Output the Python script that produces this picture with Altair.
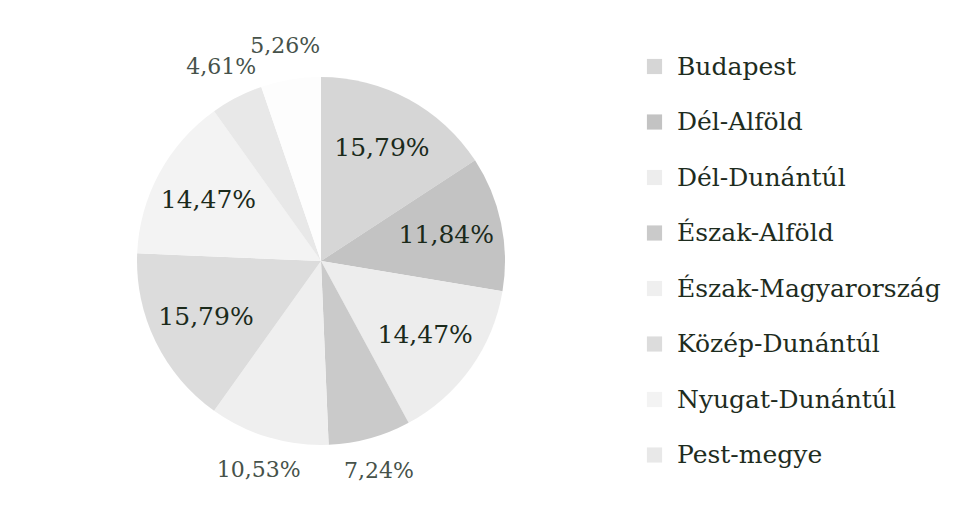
import altair as alt
import pandas as pd

regions = ["Budapest", "Dél-Alföld", "Dél-Dunántúl", "Észak-Alföld",
           "Észak-Magyarország", "Közép-Dunántúl", "Nyugat-Dunántúl",
           "Pest-megye", "Egyéb"]
shares = [15.79, 11.84, 14.47, 7.24, 10.53, 15.79, 14.47, 4.61, 5.26]
colors = ["#d6d6d6", "#c3c3c3", "#ededed", "#cacaca", "#efefef",
          "#dcdcdc", "#f3f3f3", "#e8e8e8", "#fdfdfd"]
legend_names = regions[:8]

df = pd.DataFrame({"region": regions, "share": shares, "order": list(range(len(regions)))})
df["label"] = df["share"].map(lambda v: f"{v:.2f}".replace(".", ",") + "%")

CX, CY, R = 313, 253, 184
FONT = "DejaVu Serif"

pie = alt.Chart(df).mark_arc(outerRadius=R, stroke=None).encode(
    theta=alt.Theta("share:Q", stack=True),
    order=alt.Order("order:Q"),
    x=alt.value(CX), y=alt.value(CY),
    color=alt.Color(
        "region:N",
        scale=alt.Scale(domain=regions, range=colors),
        sort=regions,
        legend=alt.Legend(
            title=None, values=legend_names, orient="none",
            legendX=634, legendY=46,
            symbolType="square", symbolSize=230, symbolStrokeWidth=0,
            labelFont=FONT, labelFontSize=25, labelColor="#1e2c1e",
            rowPadding=29.5, labelOffset=10, labelLimit=400,
        ),
    ),
)

labels = alt.Chart(df).transform_window(
    cum="sum(share)", sort=[alt.SortField("order")]
).transform_joinaggregate(
    total="sum(share)"
).transform_calculate(
    mid="(datum.cum - datum.share / 2) / datum.total",
    lr="datum.share < 11 ? 218 : 128",
).mark_text(font=FONT).encode(
    theta=alt.Theta("mid:Q", stack=None, scale=alt.Scale(domain=[0, 1], range=[0, 6.283185307179586])),
    x=alt.value(CX), y=alt.value(CY),
    text="label:N",
    radius=alt.Radius("lr:Q", scale=None),
    size=alt.condition("datum.share < 11", alt.value(22), alt.value(25)),
    color=alt.condition("datum.share < 11", alt.value("#46524a"), alt.value("#1b2a1b")),
)

chart = alt.layer(pie, labels).resolve_scale(theta="independent").properties(
    width=940, height=485, padding=0, autosize=alt.AutoSizeParams(type="none"),
    background="white",
).configure_view(stroke=None)

chart.save("out.html", embed_options={"renderer": "svg", "actions": False})
